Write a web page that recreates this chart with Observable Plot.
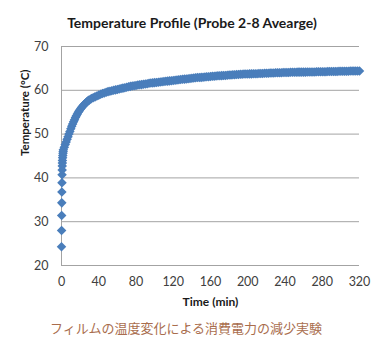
<!DOCTYPE html>
<html>
<head>
<meta charset="utf-8">
<script src="https://cdn.jsdelivr.net/npm/d3@7"></script>
<script src="https://cdn.jsdelivr.net/npm/@observablehq/plot@0.6"></script>
<style>
  html, body { margin: 0; padding: 0; background: #fff; }
  #wrap { position: relative; width: 392px; height: 358px; overflow: hidden; }
  #title { position: absolute; left: 0; width: 384px; top: 14px; text-align: center;
    font: bold 14px Lato, "Open Sans", sans-serif; color: #1a1a1a; }
  #caption { position: absolute; left: 0; width: 372px; top: 318px; text-align: center;
    font: 13px "Noto Sans CJK JP", sans-serif; color: #a96d4d; }
  #chart { position: absolute; left: 0; top: 0; }
</style>
</head>
<body>
<div id="wrap">
  <div id="chart"></div>
  <div id="title">Temperature Profile (Probe 2-8 Avearge)</div>
  <div id="caption">フィルムの温度変化による消費電力の減少実験</div>
</div>
<script>
const times = [
  0, 0.1, 0.2, 0.3, 0.4, 0.5, 0.6, 0.7, 0.8, 0.9, 1.0, 1.2, 1.4, 1.6, 1.8, 2.0,
  3, 4, 5, 6, 7, 8, 9, 10, 11, 12, 13, 14, 15, 16, 17, 18, 19, 20,
  21, 22, 23, 24, 25, 26, 27, 28, 29, 30,
  32, 34, 36, 38, 40, 42, 44, 46, 48, 50, 52, 54, 56, 58, 60,
  62, 64, 66, 68, 70, 72, 74, 76, 78, 80, 82, 84, 86, 88, 90,
  92, 94, 96, 98, 100, 102, 104, 106, 108, 110, 112, 114, 116, 118, 120,
  122, 124, 126, 128, 130, 132, 134, 136, 138, 140, 142, 144, 146, 148, 150,
  152, 154, 156, 158, 160, 162, 164, 166, 168, 170, 172, 174, 176, 178, 180,
  182, 184, 186, 188, 190, 192, 194, 196, 198, 200, 202, 204, 206, 208, 210,
  212, 214, 216, 218, 220, 222, 224, 226, 228, 230, 232, 234, 236, 238, 240,
  242, 244, 246, 248, 250, 252, 254, 256, 258, 260, 262, 264, 266, 268, 270,
  272, 274, 276, 278, 280, 282, 284, 286, 288, 290, 292, 294, 296, 298, 300,
  302, 304, 306, 308, 310, 312, 314, 316, 318, 320
];
const temps = [
  24.3, 28.0, 31.4, 34.3, 36.8, 38.9, 40.7, 41.8, 42.7, 43.4, 44.0, 44.6, 45.1, 45.6, 46.0, 46.4,
  47.0, 47.6, 48.2, 48.8, 49.4, 50.0, 50.6, 51.2, 51.8, 52.3, 52.8, 53.3, 53.8, 54.2, 54.6, 55.0, 55.3, 55.6,
  55.9, 56.2, 56.4, 56.7, 56.9, 57.1, 57.3, 57.5, 57.7, 57.8,
  58.1, 58.3, 58.5, 58.7, 58.9, 59.1, 59.25, 59.4, 59.55, 59.7, 59.8, 59.9, 60.0, 60.1, 60.2,
  60.3, 60.4, 60.5, 60.6, 60.7, 60.8, 60.9, 61.0, 61.05, 61.1, 61.2, 61.25, 61.3, 61.4, 61.45,
  61.5, 61.6, 61.65, 61.7, 61.75, 61.8, 61.85, 61.9, 61.95, 62.0, 62.05, 62.1, 62.15, 62.2, 62.25,
  62.3, 62.35, 62.4, 62.45, 62.5, 62.55, 62.6, 62.65, 62.7, 62.75, 62.8, 62.85, 62.9, 62.9, 62.95,
  63.0, 63.05, 63.1, 63.1, 63.15, 63.2, 63.2, 63.25, 63.3, 63.3, 63.35, 63.4, 63.4, 63.45, 63.5,
  63.5, 63.55, 63.55, 63.6, 63.6, 63.65, 63.65, 63.7, 63.7, 63.7, 63.75, 63.75, 63.8, 63.8, 63.8,
  63.85, 63.85, 63.85, 63.9, 63.9, 63.9, 63.95, 63.95, 63.95, 64.0, 64.0, 64.0, 64.0, 64.05, 64.05,
  64.05, 64.05, 64.1, 64.1, 64.1, 64.1, 64.15, 64.15, 64.15, 64.15, 64.15, 64.2, 64.2, 64.2, 64.2,
  64.2, 64.25, 64.25, 64.25, 64.25, 64.25, 64.25, 64.3, 64.3, 64.3, 64.3, 64.3, 64.3, 64.35, 64.35,
  64.35, 64.35, 64.35, 64.35, 64.4, 64.4, 64.4, 64.4, 64.4, 64.4
];
const xTicks = [0, 40, 80, 120, 160, 200, 240, 280, 320];
const yTicks = [20, 30, 40, 50, 60, 70];

const data = times.map((t, i) => ({t, temp: temps[i]}));
const grid = "#a3a3a3";

const chart = Plot.plot({
  width: 392,
  height: 358,
  marginLeft: 61,
  marginRight: 33,
  marginTop: 46,
  marginBottom: 93,
  style: {fontFamily: "Lato, 'Open Sans', sans-serif", background: "transparent", overflow: "visible"},
  x: {domain: [0, 320]},
  y: {domain: [20, 70]},
  marks: [
    Plot.gridY(yTicks.filter(d => d > 20), {stroke: grid, strokeOpacity: 1, strokeWidth: 1}),
    Plot.ruleY([20], {stroke: grid, strokeWidth: 1}),
    Plot.ruleX([0], {stroke: grid, strokeWidth: 1}),
    Plot.axisX(xTicks, {tickSize: 0, tickPadding: 12, fontSize: 12.5, color: "#404040", label: null}),
    Plot.axisY(yTicks, {tickSize: 0, tickPadding: 13, fontSize: 12.5, color: "#404040", label: null}),
    Plot.text(["Time (min)"], {frameAnchor: "bottom", dy: 37, lineAnchor: "middle", fontSize: 12, fontWeight: "bold", fill: "#1a1a1a"}),
    Plot.text(["Temperature (°C)"], {frameAnchor: "left", dx: -36, rotate: -90, lineAnchor: "middle", fontSize: 11.5, fontWeight: "bold", fill: "#1a1a1a"}),
    Plot.dot(data, {x: "t", y: "temp", symbol: "diamond2", r: 4.3, fill: "#4a7ebb", stroke: "none"})
  ]
});
document.getElementById("chart").appendChild(chart);
</script>
</body>
</html>
